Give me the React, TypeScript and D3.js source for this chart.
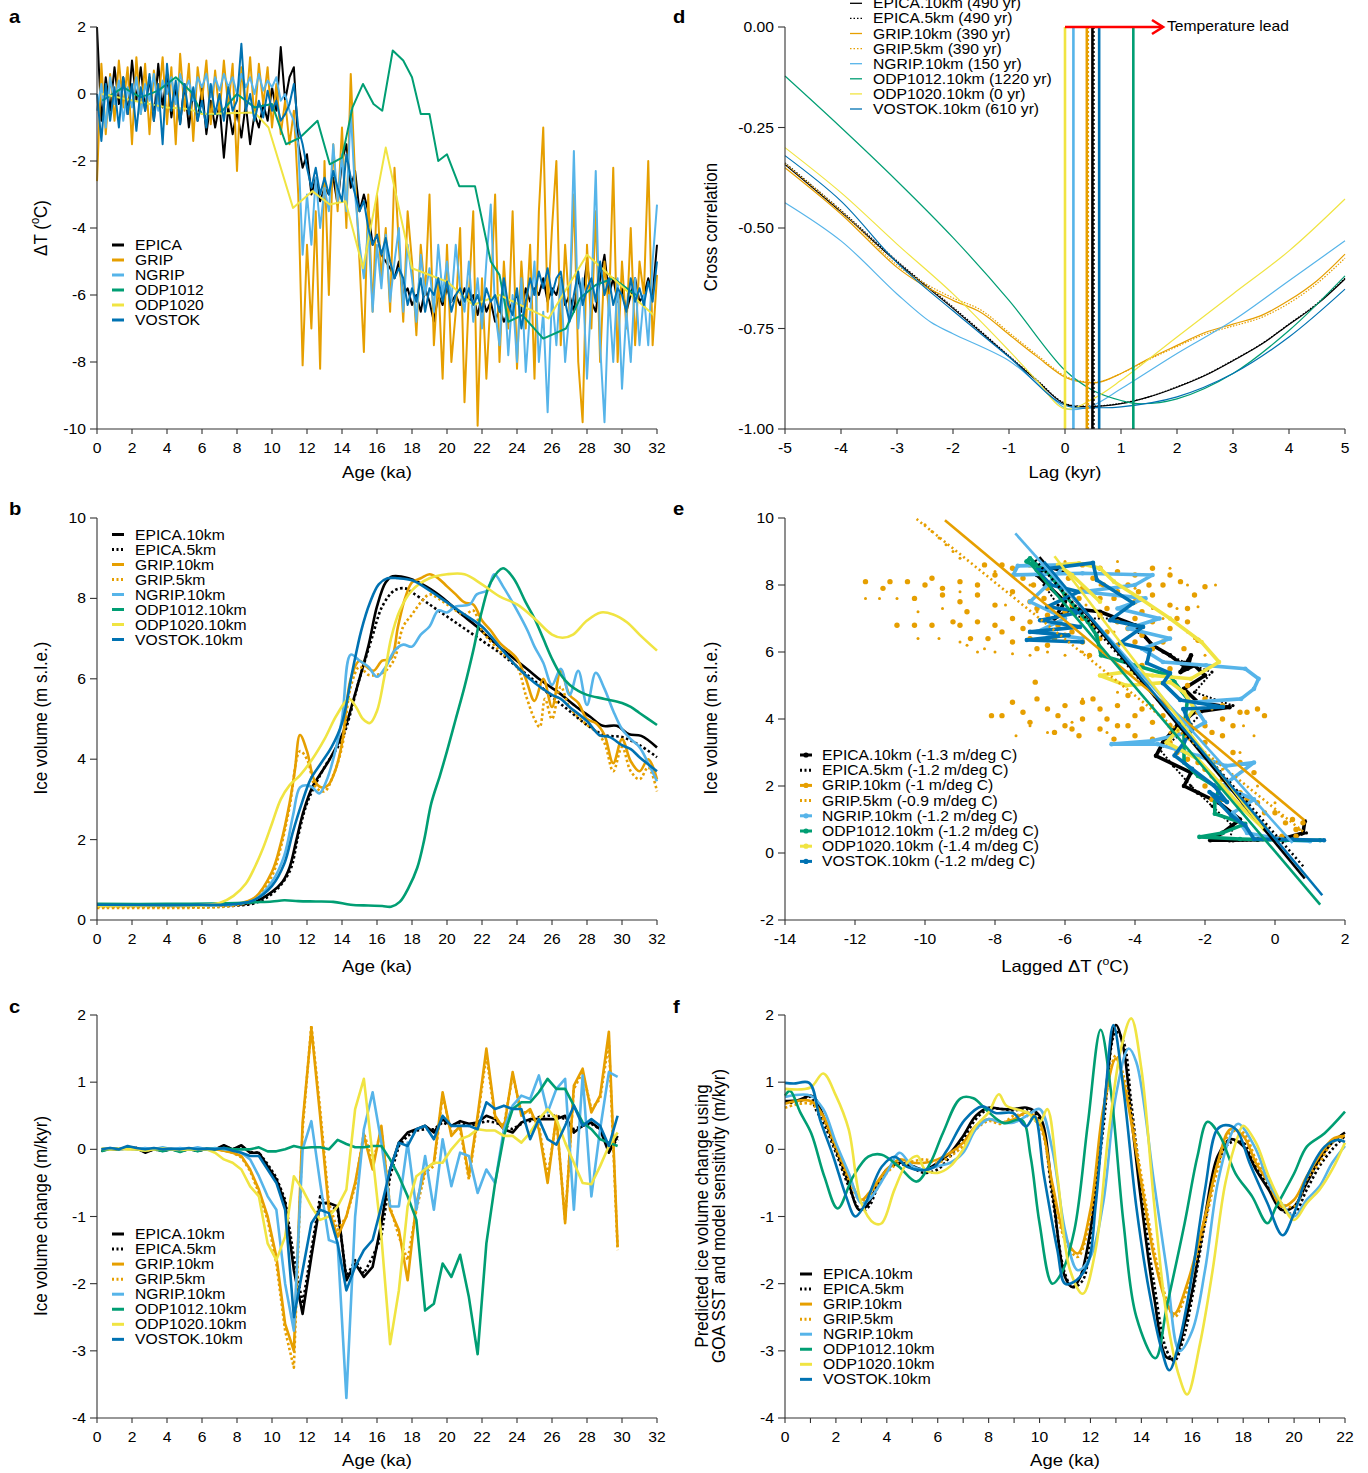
import React from 'react';
import * as d3 from 'd3';

const FONT = '"Liberation Sans", Arial, Helvetica, sans-serif';
const SX = 1.12;
const AX = '#333';

const COL = { EPICA: '#000000', GRIP: '#E69F00', NGRIP: '#56B4E9', ODP1012: '#009E73', ODP1020: '#F0E442', VOSTOK: '#0072B2' };

const NAMES6 = ['EPICA', 'GRIP', 'NGRIP', 'ODP1012', 'ODP1020', 'VOSTOK'];
const COL6 = [COL.EPICA, COL.GRIP, COL.NGRIP, COL.ODP1012, COL.ODP1020, COL.VOSTOK];
const NAMES8 = ['EPICA.10km', 'EPICA.5km', 'GRIP.10km', 'GRIP.5km', 'NGRIP.10km', 'ODP1012.10km', 'ODP1020.10km', 'VOSTOK.10km'];
const COL8 = [COL.EPICA, COL.EPICA, COL.GRIP, COL.GRIP, COL.NGRIP, COL.ODP1012, COL.ODP1020, COL.VOSTOK];
const DOT8 = [false, true, false, true, false, false, false, false];
const LAG_LABELS = ['EPICA.10km (490 yr)', 'EPICA.5km (490 yr)', 'GRIP.10km (390 yr)', 'GRIP.5km (390 yr)', 'NGRIP.10km (150 yr)', 'ODP1012.10km (1220 yr)', 'ODP1020.10km (0 yr)', 'VOSTOK.10km (610 yr)'];
const SENS_LABELS = ['EPICA.10km (-1.3 m/deg C)', 'EPICA.5km (-1.2 m/deg C)', 'GRIP.10km (-1 m/deg C)', 'GRIP.5km (-0.9 m/deg C)', 'NGRIP.10km (-1.2 m/deg C)', 'ODP1012.10km (-1.2 m/deg C)', 'ODP1020.10km (-1.4 m/deg C)', 'VOSTOK.10km (-1.2 m/deg C)'];

// ---------- Panel a : temperature anomaly ----------
const aAges = [
  0, 0.25, 0.5, 0.75, 1, 1.25, 1.5, 1.75, 2, 2.25, 2.5, 2.75, 3, 3.25, 3.5, 3.75,
  4, 4.25, 4.5, 4.75, 5, 5.25, 5.5, 5.75, 6, 6.25, 6.5, 6.75, 7, 7.25, 7.5, 7.75,
  8, 8.25, 8.5, 8.75, 9, 9.25, 9.5, 9.75, 10, 10.25, 10.5, 10.75, 11, 11.25, 11.5, 11.75,
  12, 12.25, 12.5, 12.75, 13, 13.25, 13.5, 13.75, 14, 14.25, 14.5, 14.75, 15, 15.25, 15.5, 15.75,
  16, 16.25, 16.5, 16.75, 17, 17.25, 17.5, 17.75, 18, 18.25, 18.5, 18.75, 19, 19.25, 19.5, 19.75,
  20, 20.25, 20.5, 20.75, 21, 21.25, 21.5, 21.75, 22, 22.25, 22.5, 22.75, 23, 23.25, 23.5, 23.75,
  24, 24.25, 24.5, 24.75, 25, 25.25, 25.5, 25.75, 26, 26.25, 26.5, 26.75, 27, 27.25, 27.5, 27.75,
  28, 28.25, 28.5, 28.75, 29, 29.25, 29.5, 29.75, 30, 30.25, 30.5, 30.75, 31, 31.25, 31.5, 31.75, 32,
];
const aEPICA = [
  2.0, -0.8, 0.5, -0.5, 0.8, -0.3, 0.5, -0.6, 1.0, -0.2, 0.8, -0.5, 0.5, -0.8, 0.9, -0.4,
  0.6, -0.7, 0.2, -0.9, 0.3, -1.0, 0.1, -0.8, 0.2, -1.2, -0.2, -1.0, -0.3, -1.9, -0.4, -1.2,
  -0.5, -1.3, -0.3, -1.5, -0.6, -1.0, -0.3, -0.8, 0.2, -0.5, 1.4, -0.2, 0.5, 0.8, -1.5, -2.2,
  -1.8, -3.0, -2.5, -3.2, -2.8, -3.0, -2.5, -3.3, -2.0, -1.5, -2.8, -2.3, -3.5, -3.0, -3.5, -4.5,
  -4.2, -4.8, -5.0, -5.2, -5.5, -5.0, -6.0, -5.8, -6.3, -6.0, -6.5, -5.8, -6.2, -6.8, -6.0, -6.3,
  -5.8, -6.2, -6.0, -6.3, -5.8, -6.2, -6.0, -6.6, -6.0, -6.5, -6.2, -6.8, -6.4, -6.8, -6.5, -6.2,
  -6.0, -6.5, -5.8, -6.2, -5.8, -6.0, -5.5, -6.2, -5.8, -6.0, -5.5, -6.3, -6.0, -6.5, -5.5, -6.0,
  -5.0, -6.2, -6.5, -5.5, -4.8, -6.0, -5.5, -6.2, -5.8, -6.5, -6.0, -5.5, -6.2, -6.0, -5.5, -6.0, -4.5,
];
const aGRIP = [
  -2.6, 0.9, -1.2, 0.6, -0.8, 1.0, -0.4, 0.8, -1.5, 1.1, -0.6, 0.9, -1.2, 0.7, -0.3, 1.1,
  -0.9, 0.8, -1.5, 1.2, -0.5, 0.9, -1.4, 0.8, -0.2, 1.0, -0.9, 0.7, -0.6, 1.0, -0.4, 0.9,
  -2.3, 0.8, -0.5, 1.1, -0.8, 0.9, -0.3, 0.8, -1.0, 0.3, -1.2, -0.2, -1.5, -0.5, -3.0, -8.1,
  -4.5, -7.0, -3.5, -8.2, -2.0, -6.0, -1.5, -3.5, -1.0, -4.0, 0.6, -2.5, -5.0, -7.7, -3.0, -6.5,
  -3.0, -5.5, -4.0, -6.5, -2.2, -4.5, -6.8, -3.5, -5.0, -7.2, -4.5, -6.0, -3.0, -7.5, -5.5, -8.5,
  -4.5, -8.0, -6.5, -4.0, -9.2, -6.0, -3.5, -9.9, -5.5, -8.5, -6.0, -3.0, -8.0, -5.0, -7.0, -3.5,
  -8.2, -5.0, -7.0, -4.5, -8.5, -3.5, -1.0, -6.5, -4.0, -2.0, -7.5, -4.5, -6.5, -3.0, -8.0, -9.8,
  -4.5, -7.0, -3.5, -8.0, -5.0, -6.5, -2.2, -8.0, -5.0, -7.0, -4.0, -7.5, -5.0, -6.0, -2.0, -7.5, -5.4,
];
const aNGRIP = [
  -0.5, 0.3, -1.0, 0.5, -0.3, 0.4, -0.8, 0.2, -0.4, 0.5, -0.6, 0.3, -0.2, 0.6, -0.5, 0.4,
  0.0, 0.5, -0.3, 0.6, 0.1, 0.4, -0.2, 0.5, 0.2, 0.6, -0.1, 0.5, 0.1, 0.6, 0.2, 0.5,
  0.0, 0.6, 0.2, 0.5, 0.0, 0.6, 0.1, 0.4, 0.2, 0.5, -0.2, 0.0, -0.5, -0.8, -1.5, -4.8,
  -3.0, -4.5, -2.5, -4.0, -2.8, -3.5, -1.5, -3.2, -1.8, -3.5, -0.5, -3.0, -4.5, -5.5, -4.0, -6.5,
  -4.5, -5.8, -4.2, -6.2, -5.0, -4.0, -6.5, -4.5, -5.5, -6.8, -4.8, -6.0, -5.2, -6.5, -4.5, -6.0,
  -5.0, -6.2, -4.5, -5.8, -6.5, -5.0, -6.8, -5.5, -7.0, -5.0, -3.3, -6.5, -7.5, -5.5, -7.8, -6.0,
  -8.0, -5.5, -8.3, -6.5, -5.0, -8.0, -6.5, -9.5, -6.0, -7.5, -5.5, -8.0, -6.5, -1.7, -7.0, -5.5,
  -8.5, -6.0, -2.3, -7.5, -9.8, -6.0, -8.0, -5.5, -8.8, -6.5, -8.0, -5.5, -7.5, -6.0, -7.5, -5.0, -3.3,
];
const aVOSTOK = [
  0.0, -1.4, 0.3, -0.8, 0.2, -1.0, 0.5, -0.6, 0.3, -1.1, 0.2, -0.5, 0.6, -0.8, 0.3, -1.5,
  0.9, -0.5, 0.4, -0.9, 0.3, -0.6, 0.2, -0.8, -0.2, -1.0, 0.3, -0.6, 0.0, -0.8, 0.2, -0.5,
  -0.2, 1.5, -0.5, 0.0, -0.8, -0.2, -0.7, 0.1, -0.5, -0.2, -0.8, -0.6, -0.3, 0.3, -1.0, -1.5,
  -2.2, -2.8, -2.2, -3.0, -2.5, -3.0, -2.3, -2.8, -3.2, -1.8, -2.5, -3.0, -3.5, -3.2, -4.0, -4.5,
  -4.2, -4.8, -4.3, -5.0, -5.5, -5.2, -5.5, -6.3, -5.8, -6.2, -5.5, -6.5, -5.8, -6.0, -5.5, -6.2,
  -5.6, -6.5, -6.0, -5.8, -6.2, -5.8, -6.3, -6.0, -6.5, -5.8, -6.2, -6.0, -6.5, -5.5, -6.3, -6.6,
  -5.8, -7.0, -6.2, -5.5, -6.0, -5.3, -5.8, -5.2, -6.0, -5.5, -5.3, -6.2, -6.8, -6.0, -5.3, -6.3,
  -5.8, -5.5, -6.2, -5.0, -6.0, -5.5, -6.3, -5.8, -6.0, -6.5, -5.5, -6.2, -5.8, -6.3, -5.6, -6.2, -5.0,
];
const aODP1012 = [
  [0.3, -0.2], [1.5, 0.2], [2.5, -0.1], [3.5, 0.1], [4.5, 0.5], [5.4, 0.05], [6, -0.6], [7, -0.6], [8, 0], [9, -0.4],
  [10, -0.3], [10.8, -1.5], [11.6, -1.3], [12.6, -0.8], [13.3, -2.1], [14, -1.9], [14.6, -0.4], [15.2, 0.3], [15.8, -0.3],
  [16.3, -0.5], [16.9, 1.3], [17.5, 1.0], [18, 0.5], [18.5, -0.6], [19, -0.6], [19.5, -2.0], [20, -1.8], [20.7, -2.75],
  [21.6, -2.75], [22.5, -5.0], [23, -5.4], [23.5, -6.8], [24.3, -6.6], [25.5, -7.3], [26.8, -7.0], [27.6, -6.1],
  [28.5, -5.7], [29.5, -5.5], [30.8, -6.0],
];
const aODP1020 = [
  [0.3, 0.0], [3, -0.3], [4, -0.4], [5.3, -0.45], [6, -0.6], [9, -0.55], [9.8, -1.0], [11.2, -3.4], [12.3, -2.9],
  [13.3, -3.3], [14.2, -3.2], [15.2, -5.2], [16.5, -1.6], [18, -5.2], [20, -5.6], [21.5, -6.3], [23, -6.0],
  [25.8, -6.7], [28, -4.8], [31.8, -6.6],
];

// ---------- Panel b : ice volume ----------
const bEpica10 = [[0, 0.37], [2, 0.36], [4, 0.36], [6, 0.37], [8, 0.38], [9, 0.45], [10, 0.7], [10.6, 0.95], [11, 1.3], [11.4, 2.0], [11.8, 2.7], [12.3, 3.3], [13.3, 4.0], [14.1, 4.7], [14.8, 5.7], [15.5, 6.8], [16, 7.8], [16.5, 8.4], [16.9, 8.55], [17.8, 8.5], [18.8, 8.3], [19.8, 8.0], [20.7, 7.65], [21.7, 7.3], [22.7, 6.9], [23.7, 6.55], [24.7, 6.2], [25.4, 5.95], [26.4, 5.65], [27.4, 5.3], [28.2, 5.05], [28.9, 4.83], [29.7, 4.83], [30.4, 4.62], [31.1, 4.58], [32, 4.29]];
const bEpica5 = [[0, 0.33], [4, 0.33], [8, 0.36], [9, 0.42], [10, 0.65], [11, 1.2], [11.5, 2.1], [12, 2.9], [13, 3.8], [14, 4.5], [15, 6.0], [15.7, 7.0], [16.3, 7.8], [17, 8.2], [17.6, 8.25], [18, 8.15], [19, 7.85], [20, 7.55], [21, 7.25], [22, 6.95], [23, 6.65], [24, 6.3], [25, 5.95], [26, 5.55], [27, 5.2], [28, 4.85], [29, 4.6], [30, 4.55], [31, 4.35], [32, 4.05]];
const bGrip10 = [[0, 0.35], [4, 0.35], [7, 0.37], [8, 0.4], [9, 0.55], [10, 1.2], [10.5, 1.9], [11, 2.9], [11.3, 3.7], [11.6, 4.6], [12, 4.2], [12.4, 3.5], [12.8, 3.3], [13.2, 3.35], [13.6, 3.7], [14, 4.4], [14.5, 6.0], [15, 6.45], [15.4, 6.3], [15.8, 6.2], [16.3, 6.45], [16.8, 6.5], [17.2, 7.3], [17.6, 8.0], [18, 8.4], [18.5, 8.5], [19, 8.6], [19.5, 8.5], [20, 8.3], [20.5, 8.1], [21, 7.9], [21.5, 7.85], [22, 7.45], [22.5, 7.2], [23, 6.9], [24, 6.5], [24.5, 6.0], [25, 5.45], [25.5, 6.0], [26, 5.3], [26.5, 6.2], [27, 5.6], [27.5, 5.4], [28, 5.0], [28.5, 4.9], [29, 4.6], [29.5, 3.9], [30, 4.5], [30.5, 3.95], [31, 3.7], [31.5, 4.0], [32, 3.5]];
const bGrip5 = [[0, 0.3], [4, 0.3], [7, 0.32], [8, 0.37], [9, 0.5], [10, 1.1], [10.5, 1.8], [11, 2.8], [11.6, 4.2], [12, 4.0], [12.5, 3.3], [13, 3.2], [13.5, 3.6], [14, 4.3], [14.5, 5.8], [15, 6.3], [15.5, 6.1], [16, 6.1], [16.5, 6.2], [17, 6.5], [17.5, 7.3], [18, 7.6], [18.5, 7.9], [19, 8.1], [19.5, 8.0], [20, 7.85], [21, 7.6], [21.5, 7.7], [22, 7.2], [23, 6.7], [24, 6.3], [24.5, 5.6], [25, 5.0], [25.3, 4.8], [25.6, 5.5], [26, 5.0], [26.5, 5.8], [27, 5.3], [28, 4.85], [28.5, 4.7], [29, 4.4], [29.5, 3.7], [30, 4.3], [30.5, 3.7], [31, 3.5], [31.5, 3.8], [32, 3.2]];
const bNgrip10 = [[0, 0.36], [4, 0.36], [7, 0.37], [8, 0.4], [9, 0.5], [10, 0.95], [10.7, 1.6], [11.2, 2.6], [11.6, 3.3], [12, 3.35], [12.3, 3.3], [12.7, 3.15], [13.1, 3.45], [13.5, 4.0], [14, 5.0], [14.5, 6.6], [15, 6.45], [15.5, 6.3], [16, 6.05], [16.5, 6.3], [17, 6.7], [17.5, 6.85], [18, 6.8], [18.5, 7.1], [19, 7.3], [19.5, 7.7], [20, 7.65], [20.5, 7.8], [21.3, 7.85], [21.7, 8.1], [22.3, 8.2], [22.7, 8.6], [23.2, 8.3], [24, 7.7], [24.6, 7.2], [25, 6.8], [25.5, 6.4], [26, 5.85], [26.5, 6.25], [27, 5.6], [27.5, 6.2], [28, 5.35], [28.5, 6.15], [29, 5.75], [29.5, 5.2], [30, 4.75], [30.5, 4.5], [31, 4.3], [31.5, 3.9], [32, 3.45]];
const bOdp1012 = [[0, 0.4], [4, 0.4], [8, 0.42], [9, 0.44], [10, 0.46], [10.7, 0.49], [11.5, 0.47], [12.5, 0.46], [13.5, 0.45], [14.5, 0.38], [15.5, 0.36], [16.3, 0.35], [16.8, 0.33], [17.3, 0.45], [17.8, 0.8], [18.3, 1.3], [18.7, 2.0], [19.1, 2.9], [19.6, 3.6], [20, 4.2], [20.5, 5.0], [21, 5.8], [21.5, 6.7], [22, 7.7], [22.5, 8.4], [23.2, 8.75], [23.8, 8.5], [24.5, 7.9], [25, 7.5], [25.5, 7.0], [26, 6.5], [26.5, 6.1], [27, 5.85], [27.5, 5.7], [28, 5.6], [29, 5.5], [30, 5.4], [30.5, 5.3], [31, 5.15], [32, 4.85]];
const bOdp1020 = [[0, 0.35], [4, 0.36], [6, 0.37], [7, 0.42], [7.8, 0.6], [8.5, 0.9], [9, 1.3], [9.5, 1.8], [10, 2.4], [10.5, 3.0], [11, 3.35], [11.6, 3.6], [12.3, 4.0], [13, 4.5], [13.7, 5.1], [14.4, 5.5], [14.8, 5.3], [15.2, 5.0], [15.6, 4.9], [16, 5.2], [16.4, 6.0], [16.8, 7.0], [17.3, 7.7], [18, 8.2], [19, 8.5], [20, 8.6], [21, 8.6], [22, 8.35], [23, 8.05], [24, 7.85], [25, 7.5], [26, 7.1], [26.6, 7.02], [27.2, 7.1], [28, 7.45], [28.8, 7.65], [29.5, 7.6], [30.3, 7.4], [31, 7.1], [32, 6.7]];
const bVostok10 = [[0, 0.38], [4, 0.37], [6, 0.38], [8, 0.4], [9, 0.5], [10, 0.85], [10.7, 1.4], [11.2, 2.2], [11.7, 2.9], [12.2, 3.5], [12.8, 3.9], [13.4, 4.3], [14, 4.9], [14.6, 6.2], [15.1, 7.2], [15.6, 7.9], [16.1, 8.35], [16.6, 8.5], [17.2, 8.5], [18, 8.45], [19, 8.2], [20, 7.9], [21, 7.6], [22, 7.3], [23, 6.8], [24, 6.3], [25, 5.9], [26, 5.6], [26.5, 5.5], [27, 5.3], [28, 4.95], [28.7, 4.6], [29.3, 4.55], [30, 4.35], [30.5, 4.25], [31, 4.05], [32, 3.7]];

// ---------- Panel c : ice volume change ----------
const cAges = [
  0.25, 0.75, 1.25, 1.75, 2.25, 2.75, 3.25, 3.75, 4.25, 4.75, 5.25, 5.75, 6.25, 6.75, 7.25, 7.75, 8.25, 8.75, 9.25, 9.75,
  10.25, 10.75, 11.25, 11.75, 12.25, 12.75, 13.25, 13.75, 14.25, 14.75, 15.25, 15.75, 16.25, 16.75, 17.25, 17.75, 18.25, 18.75, 19.25, 19.75,
  20.25, 20.75, 21.25, 21.75, 22.25, 22.75, 23.25, 23.75, 24.25, 24.75, 25.25, 25.75, 26.25, 26.75, 27.25, 27.75, 28.25, 28.75, 29.25, 29.75,
];
const cEpica10 = [-0.02, 0.01, 0, 0.03, 0.02, -0.05, 0, -0.02, 0, -0.03, 0, -0.02, 0, 0, 0.06, 0, 0.06, -0.05, -0.05, -0.25,
  -0.45, -0.8, -1.8, -2.45, -1.6, -0.8, -0.8, -0.85, -1.95, -1.7, -1.9, -1.75, -1.1, -0.3, 0.1, 0.25, 0.3, 0.35, 0.25, 0.45,
  0.35, 0.42, 0.38, 0.4, 0.5, 0.45, 0.3, 0.25, 0.4, 0.45, 0.45, 0.45, 0.45, 0.5, 0.25, 0.35, 0.4, 0.3, -0.05, 0.2];
const cEpica5 = [-0.02, 0.01, 0, 0.02, 0.02, -0.04, 0, -0.02, 0, -0.02, 0, -0.02, 0, 0, 0.05, 0, 0.05, -0.04, -0.05, -0.22,
  -0.42, -0.75, -1.6, -2.3, -1.5, -0.7, -0.85, -0.9, -1.9, -1.65, -1.85, -1.6, -1.3, -0.4, 0.05, 0.2, 0.28, 0.3, 0.3, 0.4,
  0.35, 0.4, 0.35, 0.38, 0.42, 0.4, 0.35, 0.3, 0.38, 0.42, 0.48, 0.5, 0.5, 0.45, 0.3, 0.35, 0.38, 0.3, 0, 0.15];
const cGrip10 = [0, 0.01, 0, 0.02, 0, -0.02, 0, 0.01, 0, -0.02, 0, 0.01, 0, 0, -0.02, -0.05, -0.1, -0.3, -0.6, -1.0,
  -1.6, -2.6, -3.0, 0.4, 1.8, 0.5, -0.9, -1.3, -1.0, -0.5, 0.2, -0.3, 0.35, -0.9, -1.2, -1.95, -0.8, -0.3, -0.2, 0.85,
  0.2, 0.35, -0.4, 0.5, 1.5, 0.5, 0.3, 1.15, 0.5, 0.6, 0.3, -0.5, 0.5, -1.1, 0.95, 1.2, 0.55, 0.8, 1.75, -1.45];
const cGrip5 = [0, 0.01, 0, 0.01, 0, -0.02, 0, 0.01, 0, -0.02, 0, 0.01, 0, 0, -0.02, -0.05, -0.12, -0.32, -0.65, -1.05,
  -1.7, -2.7, -3.25, 0.3, 1.85, 0.6, -0.8, -1.2, -1.0, -0.55, 0.25, -0.2, 0.3, -0.85, -1.3, -1.65, -0.9, -0.35, -0.25, 0.8,
  0.25, 0.3, -0.45, 0.45, 1.4, 0.45, 0.35, 1.1, 0.55, 0.55, 0.35, -0.4, 0.45, -1.05, 0.9, 1.15, 0.6, 0.75, 1.6, -1.5];
const cNgrip10 = [0, 0.02, 0, 0.01, 0, 0.02, 0, 0.03, 0, 0.02, 0, 0.03, 0, 0.02, 0, 0, -0.05, -0.15, -0.4, -0.7,
  -0.9, -2.0, -2.7, 0.0, 0.42, -0.5, -1.35, -1.4, -3.7, -1.0, 0.3, 0.85, 0.1, -0.85, -0.85, 0.1, -0.9, -0.1, -0.9, 0.15,
  -0.55, -0.05, -0.1, -0.65, -0.3, -0.5, 0.3, 0.65, 0.8, 0.75, 1.1, 0.55, 0.9, 1.05, -0.9, 1.1, -0.7, 0.3, 1.15, 1.08];
const cOdp1012 = [-0.03, 0.01, 0, 0.03, 0, -0.02, 0.01, -0.03, 0, -0.04, 0.01, -0.03, 0.01, 0, 0.02, 0, 0, 0, 0.03, -0.03,
  -0.03, 0, 0.05, 0.02, 0.03, 0.03, 0, 0.14, 0.08, 0.03, 0.03, 0.05, 0.05, -0.15, -0.4, -0.7, -1.05, -2.4, -2.3, -1.7,
  -1.9, -1.57, -2.2, -3.05, -1.4, -0.5, 0.2, 0.6, 0.7, 0.7, 0.85, 1.05, 0.9, 0.9, 0.65, 0.4, 0.3, 0.15, 0.1, 0.05];
const cOdp1020 = [0.01, 0, 0.01, 0, 0, -0.02, 0, 0.01, 0, -0.01, 0, 0, 0, -0.05, -0.15, -0.2, -0.3, -0.55, -0.7, -1.4,
  -1.65, -1.3, -0.4, -0.6, -0.85, -1.05, -1.0, -0.85, -0.6, 0.6, 1.05, -0.1, -1.3, -2.9, -2.1, -0.85, -0.4, -0.3, -0.2, -0.2,
  0, 0.15, 0.2, 0.3, 0.28, 0.28, 0.2, 0.2, 0.1, 0.25, 0.45, 0.6, 0.45, 0.1, -0.2, -0.5, -0.52, -0.25, 0.05, 0.25];
const cVostok10 = [0, 0.02, 0, 0.05, 0.02, 0, 0.02, 0, 0.01, 0, 0.02, 0, 0.01, 0, 0.02, -0.02, -0.05, -0.1, -0.1, -0.3,
  -0.5, -0.9, -2.5, -1.8, -1.1, -0.9, -0.95, -1.4, -2.1, -1.75, -1.5, -1.35, -0.85, -0.3, 0.1, 0.05, 0.3, 0.35, 0.15, 0.5,
  0.35, 0.35, 0.35, 0.3, 0.7, 0.6, 0.65, 0.6, 0.6, 0.15, 0.45, 0.15, 0.07, 0.35, 0.65, 0.35, 0.45, 0.35, 0.05, 0.5];

// ---------- Panel d : cross correlation ----------
const dEpica10 = [[-5, -0.342], [-4, -0.46], [-3, -0.585], [-2, -0.70], [-1, -0.82], [-0.5, -0.88], [0, -0.938], [0.5, -0.944], [1, -0.937], [1.5, -0.92], [2, -0.896], [2.5, -0.867], [3, -0.83], [3.5, -0.79], [4, -0.74], [4.5, -0.69], [5, -0.627]];
const dEpica5 = [[-5, -0.338], [-4, -0.456], [-3, -0.582], [-2, -0.697], [-1, -0.818], [-0.5, -0.878], [0, -0.936], [0.5, -0.943], [1, -0.936], [1.5, -0.92], [2, -0.895], [2.5, -0.866], [3, -0.829], [3.5, -0.789], [4, -0.739], [4.5, -0.688], [5, -0.625]];
const dGrip10 = [[-5, -0.35], [-4, -0.465], [-3, -0.598], [-2.5, -0.645], [-2, -0.68], [-1.5, -0.71], [-1, -0.765], [-0.5, -0.82], [0, -0.871], [0.3, -0.883], [0.6, -0.884], [1, -0.862], [1.5, -0.825], [2, -0.792], [2.5, -0.76], [3, -0.739], [3.5, -0.718], [4, -0.68], [4.5, -0.631], [5, -0.565]];
const dGrip5 = [[-5, -0.34], [-4, -0.458], [-3, -0.592], [-2.5, -0.638], [-2, -0.674], [-1.5, -0.704], [-1, -0.76], [-0.5, -0.816], [0, -0.868], [0.3, -0.881], [0.6, -0.883], [1, -0.862], [1.5, -0.827], [2, -0.795], [2.5, -0.764], [3, -0.744], [3.5, -0.723], [4, -0.687], [4.5, -0.638], [5, -0.575]];
const dNgrip10 = [[-5, -0.437], [-4, -0.532], [-3, -0.664], [-2.4, -0.734], [-2, -0.763], [-1, -0.83], [-0.5, -0.887], [0, -0.948], [0.15, -0.952], [0.5, -0.941], [1, -0.9], [2, -0.812], [3, -0.73], [4, -0.631], [5, -0.532]];
const dOdp1012 = [[-5, -0.122], [-4, -0.25], [-3, -0.383], [-2, -0.524], [-1, -0.68], [0, -0.854], [0.5, -0.904], [1, -0.929], [1.3, -0.937], [2, -0.925], [3, -0.862], [4, -0.755], [5, -0.619]];
const dOdp1020 = [[-5, -0.30], [-4, -0.412], [-3, -0.54], [-2, -0.664], [-1, -0.805], [-0.5, -0.88], [0, -0.95], [0.5, -0.925], [1, -0.879], [2, -0.771], [3, -0.664], [4, -0.557], [5, -0.428]];
const dVostok10 = [[-5, -0.32], [-4, -0.433], [-3, -0.586], [-2, -0.706], [-1, -0.821], [0, -0.941], [0.6, -0.947], [1, -0.945], [2, -0.92], [3, -0.862], [4, -0.771], [5, -0.652]];
const dLags = [0.49, 0.49, 0.39, 0.39, 0.15, 1.22, 0, 0.61];

// ---------- Panel e : ice volume vs lagged temperature ----------
const eEpica10 = [[0.85, 0.95], [0.8, 0.6], [0.3, 0.45], [-0.5, 0.4], [-1.2, 0.38], [-1.85, 0.38], [-1.5, 0.6], [-1.0, 1.0], [-1.6, 1.5], [-2.2, 1.8], [-2.6, 2.0], [-2.4, 2.4], [-3.4, 2.9], [-3.2, 3.3], [-2.8, 3.8], [-2.3, 4.2], [-1.3, 4.35], [-2.2, 4.5], [-2.6, 4.9], [-2.0, 5.3], [-2.3, 5.6], [-2.7, 5.4], [-2.4, 5.9], [-2.5, 5.5], [-3.0, 5.9], [-3.5, 6.2], [-4.0, 6.8], [-5.0, 7.2], [-5.8, 7.3], [-6.3, 7.0], [-6.0, 7.5], [-6.8, 8.3], [-6.5, 8.55], [-6.0, 8.4]];
const eEpica5 = [[0.9, 0.6], [0.4, 0.4], [-0.5, 0.38], [-1.3, 0.36], [-1.2, 0.8], [-1.8, 1.4], [-2.4, 2.0], [-2.9, 2.6], [-3.3, 3.1], [-2.6, 3.6], [-2.0, 4.3], [-1.2, 4.4], [-2.3, 4.8], [-1.8, 5.4], [-2.6, 5.7], [-3.2, 6.0], [-3.8, 6.5], [-4.5, 7.0], [-5.5, 7.0], [-6.2, 7.4], [-6.6, 8.0], [-6.6, 8.2]];
const eGrip10 = [
  [-11.7, 8.1], [-11.0, 8.1], [-10.5, 8.1], [-10.0, 8.0], [-9.5, 7.9], [-9.0, 8.1], [-8.5, 8.0], [-8.0, 8.3], [-7.5, 8.5], [-7.0, 8.6],
  [-6.5, 8.5], [-6.0, 8.6], [-5.5, 8.6], [-5.0, 8.5], [-4.5, 8.4], [-4.0, 8.3], [-3.5, 8.5], [-3.0, 8.3], [-2.7, 8.1], [-2.0, 7.95],
  [-10.3, 7.6], [-9.5, 7.7], [-9.0, 7.5], [-8.5, 7.7], [-8.0, 7.4], [-7.5, 7.8], [-7.0, 7.5], [-6.5, 7.9], [-6.0, 7.7], [-5.5, 7.9],
  [-5.0, 7.6], [-4.5, 7.8], [-4.0, 7.5], [-3.5, 7.7], [-3.0, 7.4], [-2.5, 7.3], [-10.3, 6.8], [-9.8, 6.8], [-9.0, 6.8], [-8.5, 6.9],
  [-8.0, 6.8], [-7.5, 7.0], [-7.0, 6.9], [-6.5, 7.1], [-6.0, 7.2], [-5.5, 7.0], [-5.0, 7.1], [-4.5, 6.9], [-4.0, 7.0], [-3.5, 6.9],
  [-3.0, 6.7], [-2.5, 6.9], [-2.2, 6.35], [-8.7, 6.4], [-8.2, 6.4], [-7.5, 6.3], [-7.0, 6.4], [-6.5, 6.2], [-6.0, 6.5], [-5.5, 6.3],
  [-5.0, 6.4], [-4.5, 6.2], [-4.0, 6.3], [-3.5, 6.1], [-6.85, 5.1], [-8.1, 4.1], [-7.8, 4.1], [-7.2, 4.2], [-7.0, 3.9], [-6.5, 4.3],
  [-6.0, 4.4], [-6.0, 3.8], [-5.5, 4.5], [-5.5, 4.0], [-5.0, 4.3], [-5.0, 3.7], [-4.5, 4.4], [-4.5, 3.8], [-4.0, 3.5], [-4.0, 4.1],
  [-3.5, 3.9], [-3.0, 3.8], [-2.5, 4.0], [-2.0, 3.8], [-1.5, 4.0], [-1.0, 4.2], [-0.8, 4.2], [-1.5, 3.5], [-2.0, 3.3], [-1.2, 3.0],
  [-4.2, 4.7], [-6.3, 3.6], [-5.6, 3.5], [-3.0, 3.3], [-3.0, 5.5], [-2.5, 5.0], [-2.0, 4.6], [-2.5, 2.8], [-2.0, 2.5], [-1.5, 2.2],
  [-1.0, 1.8], [-0.5, 1.5], [0.0, 1.2], [0.5, 1.0], [0.8, 0.9], [0.6, 0.5], [0.2, 0.5], [-0.3, 0.8], [-1.0, 1.4], [-1.5, 1.6], [-2.0, 2.0],
  [-7.8, 8.6], [-7.2, 8.2], [-6.8, 7.3], [-6.2, 8.0], [-5.8, 7.4], [-5.2, 8.2], [-4.8, 7.3], [-4.2, 8.0], [-3.8, 7.2], [-3.2, 8.0],
  [-2.8, 7.0], [-2.3, 7.7], [-7.8, 6.6], [-7.2, 6.7], [-6.8, 6.1], [-6.2, 6.8], [-5.8, 6.6], [-5.2, 6.8], [-4.8, 6.6], [-4.2, 6.7],
  [-3.8, 6.5], [-3.2, 6.3], [-2.6, 6.1], [-8.8, 7.2], [-9.2, 6.9], [-10.8, 6.8], [-11.2, 7.9], [-9.8, 8.2], [-8.3, 8.6], [-6.3, 6.4],
  [-5.3, 5.9], [-4.3, 5.8], [-3.8, 5.6], [-7.5, 4.5], [-6.8, 4.6], [-6.2, 4.1], [-5.8, 3.7], [-5.2, 4.6], [-4.8, 4.0], [-4.2, 3.8],
  [-3.8, 4.3], [-3.2, 4.1], [-2.8, 3.6], [-2.2, 4.2], [-1.8, 3.6], [-1.2, 3.8], [-0.5, 4.3], [-0.3, 4.1], [-1.5, 4.4], [-3.5, 3.4],
  [-4.6, 3.4], [-2.8, 3.0], [-2.2, 2.7], [-1.8, 2.3], [-1.3, 2.0], [-0.8, 1.6], [-0.3, 1.2], [0.3, 0.9], [0.6, 0.7], [-0.6, 2.4],
  [-1.0, 2.7], [-1.8, 1.6], [-6.6, 7.6], [-5.6, 7.6], [-4.6, 7.6], [-3.6, 8.0], [-6.9, 8.0], [-5.9, 8.2], [-4.9, 8.0], [-3.9, 7.8],
];
const eGrip5 = [
  [-11.7, 7.6], [-11.3, 7.6], [-10.8, 7.6], [-10.2, 7.2], [-9.5, 7.3], [-10.2, 6.4], [-9.6, 6.4], [-9.0, 6.3], [-8.5, 6.0], [-8.0, 6.0],
  [-7.5, 5.95], [-7.0, 5.9], [-6.5, 6.0], [-6.0, 5.9], [-5.5, 6.0], [-5.0, 6.1], [-3.5, 7.3], [-2.8, 7.3], [-2.2, 7.35], [-2.3, 6.4],
  [-4.5, 4.8], [-5.5, 4.6], [-7.0, 3.8], [-6.5, 3.6], [-4.0, 3.3], [-3.0, 3.6], [-1.0, 3.0], [-1.5, 2.5], [-0.5, 2.0], [0.0, 1.5],
  [0.5, 1.0], [-2.5, 8.0], [-3.0, 8.5], [-4.5, 8.7], [-6.0, 8.7], [-8.0, 8.4], [-9.0, 7.8], [-7.0, 8.0], [-5.0, 8.0], [-4.0, 7.9],
  [-1.7, 8.0], [-2.0, 5.9], [-1.5, 4.0], [-0.9, 3.8], [-10.0, 9.8], [-9.8, 9.6], [-9.6, 9.4], [-9.4, 9.2], [-9.2, 9.0], [-9.0, 8.8],
  [-8.8, 6.2], [-8.3, 6.1], [-7.7, 7.4], [-6.8, 7.2], [-6.2, 6.9], [-5.4, 7.4], [-4.6, 6.6], [-3.8, 6.8], [-3.2, 7.0], [-2.5, 6.6],
  [-7.4, 3.5], [-5.8, 3.9], [-4.8, 3.6], [-3.5, 4.4], [-2.4, 3.4], [-1.8, 4.3], [-0.6, 3.5], [-1.0, 2.4], [0.2, 1.1], [0.7, 0.7],
];
const eNgrip10 = [[1.0, 0.35], [0.2, 0.4], [-0.8, 0.6], [-1.2, 1.2], [-0.6, 1.6], [-1.5, 2.0], [-0.6, 2.7], [-1.4, 2.6], [-2.2, 2.9], [-3.35, 3.25], [-4.67, 3.25], [-3.5, 3.35], [-2.5, 3.6], [-2.0, 3.9], [-2.37, 4.5], [-0.97, 4.6], [-0.6, 4.9], [-0.47, 5.2], [-0.85, 5.5], [-1.97, 5.6], [-3.2, 5.7], [-3.8, 6.1], [-3.0, 6.4], [-4.2, 6.7], [-3.3, 7.0], [-4.5, 7.3], [-3.7, 7.6], [-5.5, 7.8], [-4.0, 8.0], [-3.5, 8.3], [-5.5, 8.35], [-7.48, 8.3], [-7.35, 8.57], [-6.0, 8.6], [-6.5, 8.0], [-7.0, 7.5], [-6.0, 7.0], [-6.8, 6.6], [-5.5, 6.4]];
const eOdp1012 = [[1.29, 0.38], [0.3, 0.38], [-1.0, 0.42], [-2.16, 0.48], [-1.5, 0.6], [-0.85, 0.87], [-1.72, 1.17], [-1.72, 1.52], [-1.6, 1.92], [-2.2, 2.3], [-2.6, 2.7], [-2.6, 3.7], [-2.5, 4.6], [-2.87, 5.1], [-3.0, 5.3], [-4.97, 5.9], [-5.1, 6.5], [-5.35, 6.9], [-6.0, 7.7], [-6.5, 8.4], [-7.1, 8.7], [-7.0, 8.8], [-6.7, 8.5]];
const eOdp1020 = [[-0.3, 0.7], [-0.9, 1.3], [-1.5, 2.0], [-2.2, 2.8], [-3.1, 3.3], [-2.75, 3.7], [-2.3, 4.3], [-2.6, 4.8], [-3.0, 5.1], [-4.25, 5.0], [-5.0, 5.3], [-4.3, 5.4], [-3.5, 5.3], [-2.4, 5.2], [-1.6, 5.7], [-2.1, 6.3], [-3.0, 7.0], [-3.85, 7.6], [-4.6, 8.1], [-5.0, 8.5], [-5.6, 8.65], [-6.2, 8.6], [-5.8, 8.3], [-5.0, 7.5]];
const eVostok10 = [[1.4, 0.38], [0.5, 0.4], [-0.6, 0.42], [-0.85, 0.82], [-1.25, 1.12], [-1.87, 1.82], [-1.37, 1.52], [-1.75, 2.02], [-2.37, 2.51], [-2.87, 2.91], [-2.6, 3.3], [-2.37, 3.7], [-2.62, 4.3], [-1.49, 4.36], [-2.71, 4.57], [-3.2, 5.07], [-3.0, 5.37], [-3.66, 5.67], [-3.57, 6.06], [-4.43, 6.27], [-3.77, 6.75], [-4.71, 6.95], [-4.05, 7.46], [-5.09, 8.15], [-5.2, 8.66], [-6.81, 8.45], [-6.4, 8.0], [-5.6, 7.8], [-6.51, 7.35], [-5.5, 7.2], [-6.71, 6.95], [-5.57, 6.75], [-7.0, 6.6], [-5.9, 6.5], [-7.09, 6.36], [-5.5, 6.3]];
const eFits = [
  [[-6.73, 8.83], [0.85, -0.76]], [[-6.85, 8.75], [0.85, -0.45]], [[-9.43, 9.93], [0.85, 0.97]], [[-10.24, 9.97], [0.85, 0.6]],
  [[-7.42, 9.54], [0.5, 0.3]], [[-7.1, 8.77], [1.29, -1.54]], [[-6.3, 8.86], [-0.34, 0.72]], [[-6.6, 8.7], [1.35, -1.26]],
];

// ---------- Panel f : predicted ice volume change ----------
const fEpica10 = [[0, 0.72], [0.5, 0.73], [1, 0.8], [1.2, 0.75], [1.5, 0.5], [2, 0.0], [2.5, -0.5], [2.9, -0.9], [3.2, -0.85], [3.6, -0.55], [4, -0.3], [4.5, -0.2], [5, -0.25], [5.5, -0.3], [6, -0.2], [6.5, -0.05], [7, 0.2], [7.5, 0.5], [8, 0.62], [8.5, 0.6], [9, 0.6], [9.5, 0.62], [10, 0.5], [10.5, -0.6], [11, -1.9], [11.3, -2.05], [11.6, -1.9], [12, -1.2], [12.5, 0.5], [13, 1.85], [13.3, 1.5], [13.6, 0.5], [14, -0.8], [14.5, -2.2], [15, -3.1], [15.3, -3.1], [15.7, -2.6], [16, -2.1], [16.5, -1.0], [17, -0.1], [17.5, 0.15], [18, 0.05], [18.5, -0.3], [19, -0.6], [19.5, -0.9], [20, -0.85], [20.5, -0.5], [21, -0.15], [21.5, 0.1], [22, 0.25]];
const fEpica5 = [[0, 0.7], [0.5, 0.7], [1, 0.78], [1.2, 0.6], [1.5, 0.4], [2, -0.05], [2.5, -0.55], [3, -0.92], [3.3, -0.85], [3.6, -0.6], [4, -0.3], [4.5, -0.22], [5, -0.28], [5.5, -0.35], [6, -0.3], [6.5, -0.1], [7, 0.15], [7.5, 0.45], [8, 0.6], [8.5, 0.6], [9, 0.58], [9.5, 0.6], [10, 0.45], [10.5, -0.7], [11, -1.85], [11.3, -2.05], [11.7, -1.95], [12, -1.3], [12.5, 0.3], [13, 1.75], [13.3, 1.6], [13.6, 0.7], [14, -0.6], [14.5, -2.0], [15, -3.0], [15.3, -3.15], [15.7, -2.75], [16, -2.2], [16.5, -1.1], [17, -0.2], [17.5, 0.1], [18, 0.1], [18.5, -0.25], [19, -0.55], [19.5, -0.9], [20, -0.95], [20.5, -0.6], [21, -0.25], [21.5, 0.0], [22, 0.2]];
const fGrip10 = [[0, 0.68], [1, 0.72], [1.5, 0.5], [2, 0.05], [2.5, -0.4], [3, -0.75], [3.3, -0.65], [4, -0.3], [4.5, -0.15], [5, -0.2], [5.5, -0.2], [6, -0.15], [6.5, -0.05], [7, 0.1], [7.5, 0.35], [8, 0.45], [8.5, 0.4], [9, 0.45], [9.5, 0.55], [10, 0.4], [10.5, -0.5], [11, -1.3], [11.5, -1.55], [12, -0.9], [12.5, 0.6], [13, 1.35], [13.3, 1.0], [14, -0.5], [14.5, -1.6], [15, -2.3], [15.3, -2.45], [15.8, -2.0], [16.5, -1.0], [17, -0.2], [17.5, 0.3], [18, 0.2], [18.5, -0.2], [19, -0.5], [19.5, -0.85], [20, -0.75], [20.5, -0.4], [21, -0.1], [21.5, 0.15], [22, 0.2]];
const fGrip5 = [[0, 0.62], [1, 0.68], [1.5, 0.45], [2, 0.0], [2.5, -0.45], [3, -0.78], [3.3, -0.7], [4, -0.35], [4.5, -0.2], [5, -0.18], [5.5, -0.15], [6, -0.2], [6.5, -0.1], [7, 0.05], [7.5, 0.3], [8, 0.42], [8.5, 0.38], [9, 0.5], [9.5, 0.5], [10, 0.35], [10.5, -0.55], [11, -1.35], [11.5, -1.6], [12, -1.0], [12.5, 0.5], [13, 1.4], [13.3, 1.1], [14, -0.4], [14.5, -1.5], [15, -2.25], [15.3, -2.5], [15.8, -2.1], [16.5, -1.1], [17, -0.3], [17.5, 0.25], [18, 0.25], [18.5, -0.15], [19, -0.45], [19.5, -0.8], [20, -0.85], [20.5, -0.45], [21, -0.2], [21.5, 0.1], [22, 0.2]];
const fNgrip10 = [[0, 0.78], [1, 0.8], [1.5, 0.6], [2, 0.1], [2.5, -0.35], [3, -0.8], [3.3, -0.75], [4, -0.35], [4.5, -0.05], [5, -0.25], [5.5, -0.3], [6, -0.25], [6.5, -0.2], [7, -0.05], [7.5, 0.3], [8, 0.45], [8.5, 0.4], [9, 0.4], [9.5, 0.5], [10, 0.6], [10.5, 0.0], [11, -1.2], [11.5, -1.8], [12, -1.6], [12.5, -0.8], [13, 0.8], [13.5, 1.5], [13.8, 1.3], [14.5, -0.5], [15, -1.8], [15.5, -3.0], [16, -2.7], [16.5, -1.8], [17, -0.5], [17.5, 0.2], [17.8, 0.38], [18.5, 0.0], [19, -0.5], [19.5, -0.8], [20, -1.0], [20.5, -0.75], [21, -0.55], [21.5, -0.2], [22, 0.05]];
const fOdp1012 = [[0, 0.8], [0.2, 0.87], [0.6, 0.55], [1.03, 0.24], [1.55, -0.41], [2.07, -0.88], [2.67, -0.41], [3.27, -0.11], [3.8, -0.08], [4.48, -0.26], [5.17, -0.48], [5.7, -0.21], [6.2, 0.24], [6.9, 0.76], [7.4, 0.76], [7.9, 0.59], [8.6, 0.39], [9.3, 0.44], [9.65, -0.11], [10.0, -1.1], [10.5, -2.0], [10.85, -1.85], [11.37, -1.2], [11.9, 0.39], [12.4, 1.78], [12.8, 0.88], [13.3, -1.1], [13.8, -2.49], [14.55, -3.11], [15.0, -2.34], [15.7, -1.1], [16.2, -0.11], [16.6, 0.41], [17.1, 0.19], [17.7, -0.36], [18.35, -0.7], [18.95, -1.1], [19.3, -0.85], [20.0, -0.36], [20.5, 0.04], [21.2, 0.24], [22, 0.56]];
const fOdp1020 = [[0, 0.9], [1, 0.92], [1.5, 1.13], [2, 0.8], [2.5, 0.3], [3, -0.8], [3.5, -1.1], [3.8, -1.1], [4.3, -0.6], [4.8, -0.2], [5.2, -0.1], [5.5, -0.3], [6, -0.35], [6.5, -0.25], [7, 0.0], [7.5, 0.35], [8, 0.55], [8.4, 0.82], [8.7, 0.65], [9.5, 0.55], [10, 0.4], [10.3, 0.6], [10.7, -0.4], [11.2, -1.8], [11.7, -2.15], [12.2, -1.5], [12.7, 0.2], [13.2, 1.5], [13.6, 1.95], [14, 1.2], [14.5, -0.8], [15, -2.5], [15.5, -3.4], [15.8, -3.65], [16.3, -2.9], [16.8, -1.8], [17.3, -0.5], [17.8, 0.2], [18, 0.35], [18.5, 0.1], [19, -0.4], [19.5, -0.8], [20, -1.05], [20.5, -0.8], [21, -0.6], [21.5, -0.3], [22, 0.1]];
const fVostok10 = [[0, 0.99], [0.34, 0.98], [0.95, 0.99], [1.38, 0.44], [1.9, -0.11], [2.4, -0.7], [2.76, -1.0], [3.1, -0.85], [3.8, -0.26], [4.3, -0.11], [4.8, -0.26], [5.34, -0.31], [5.86, -0.26], [6.37, -0.01], [7.06, 0.44], [7.75, 0.64], [8.27, 0.54], [8.96, 0.54], [9.47, 0.34], [9.8, 0.49], [10.16, -0.36], [10.7, -1.5], [11.0, -2.0], [11.37, -1.97], [11.9, -1.7], [12.2, -0.85], [12.6, 0.88], [12.9, 1.85], [13.3, 0.88], [13.8, -0.85], [14.3, -2.1], [14.8, -2.99], [15.1, -3.29], [15.5, -2.84], [16.0, -1.85], [16.5, -0.6], [16.97, 0.29], [17.3, 0.36], [17.74, 0.29], [18.26, -0.21], [18.95, -0.8], [19.55, -1.28], [20.0, -0.95], [20.5, -0.41], [21.2, 0.04], [21.7, 0.14], [22, 0.11]];

// tick values
const ticksAge32 = [0, 2, 4, 6, 8, 10, 12, 14, 16, 18, 20, 22, 24, 26, 28, 30, 32];
const ticksAge22 = [0, 1, 2, 3, 4, 5, 6, 7, 8, 9, 10, 11, 12, 13, 14, 15, 16, 17, 18, 19, 20, 21, 22];
const labelsAge22 = [0, 2, 4, 6, 8, 10, 12, 14, 16, 18, 20, 22];
const ticksDT = [-10, -8, -6, -4, -2, 0, 2];
const ticksVol = [0, 2, 4, 6, 8, 10];
const ticksRate = [-4, -3, -2, -1, 0, 1, 2];
const ticksLag = [-5, -4, -3, -2, -1, 0, 1, 2, 3, 4, 5];
const ticksCorr = [-1, -0.75, -0.5, -0.25, 0];
const ticksLagT = [-14, -12, -10, -8, -6, -4, -2, 0, 2];
const ticksVolE = [-2, 0, 2, 4, 6, 8, 10];

function Txt({ x, y, size = 14, anchor = 'start', weight = 'normal', rot = 0, fill = '#000', children }: any) {
  const t = rot ? `translate(${x},${y}) rotate(${rot}) scale(1,${SX})` : `translate(${x},${y}) scale(${SX},1)`;
  return (
    <text transform={t} fontFamily={FONT} fontSize={size} textAnchor={anchor} fontWeight={weight} fill={fill}>
      {children}
    </text>
  );
}

function Axes({ xs, ys, xTicks, xLabels, yTicks, yFmt = (v: number) => String(v) }: any) {
  const x0 = xs.range()[0];
  const y0 = ys.range()[0];
  const labs = xLabels || xTicks;
  return (
    <g>
      <line x1={xs(xTicks[0])} x2={xs(xTicks[xTicks.length - 1])} y1={y0} y2={y0} stroke={AX} strokeWidth={1.1} />
      {xTicks.map((t: number) => (
        <line key={'xt' + t} x1={xs(t)} x2={xs(t)} y1={y0} y2={y0 + 5} stroke={AX} strokeWidth={1.1} />
      ))}
      {labs.map((t: number) => (
        <Txt key={'xl' + t} x={xs(t)} y={y0 + 24} anchor="middle">{String(t)}</Txt>
      ))}
      <line x1={x0} x2={x0} y1={ys(yTicks[0])} y2={ys(yTicks[yTicks.length - 1])} stroke={AX} strokeWidth={1.1} />
      {yTicks.map((t: number) => (
        <line key={'yt' + t} x1={x0 - 7} x2={x0} y1={ys(t)} y2={ys(t)} stroke={AX} strokeWidth={1.1} />
      ))}
      {yTicks.map((t: number) => (
        <Txt key={'yl' + t} x={x0 - 11} y={ys(t) + 5} anchor="end">{yFmt(t)}</Txt>
      ))}
    </g>
  );
}

function Legend({ x, textX, y0, dy, labels, colors, dotted, width = 3, len = 12, dots = false, dash = '2 2.5' }: any) {
  return (
    <g>
      {labels.map((l: string, i: number) => {
        const y = y0 + i * dy;
        return (
          <g key={l}>
            <line x1={x} x2={x + len} y1={y} y2={y} stroke={colors[i]} strokeWidth={width} strokeDasharray={dotted && dotted[i] ? dash : undefined} />
            {dots && !(dotted && dotted[i]) && <circle cx={x + len / 2} cy={y} r={2.6} fill={colors[i]} />}
            <Txt x={textX} y={y + 5}>{l}</Txt>
          </g>
        );
      })}
    </g>
  );
}

const mkLine = (xs: any, ys: any, curve: any = d3.curveLinear) =>
  d3.line<any>().x((d: any) => xs(d[0])).y((d: any) => ys(d[1])).curve(curve);

const zip = (ages: number[], vals: number[]) => ages.map((t, i) => [t, vals[i]]);

function DegC() {
  return (
    <>
      <tspan>(</tspan>
      <tspan dy={-7} fontSize={11}>o</tspan>
      <tspan dy={7}>C)</tspan>
    </>
  );
}

export default function App() {
  const xA = d3.scaleLinear().domain([0, 32]).range([97, 657]);
  const yA = d3.scaleLinear().domain([-10, 2]).range([429, 27]);
  const yB = d3.scaleLinear().domain([0, 10]).range([920, 518]);
  const yC = d3.scaleLinear().domain([-4, 2]).range([1418, 1015]);
  const xD = d3.scaleLinear().domain([-5, 5]).range([785, 1345]);
  const yD = d3.scaleLinear().domain([-1, 0]).range([429, 27]);
  const xE = d3.scaleLinear().domain([-14, 2]).range([785, 1345]);
  const yE = d3.scaleLinear().domain([-2, 10]).range([920, 518]);
  const xF = d3.scaleLinear().domain([0, 22]).range([785, 1345]);
  const yF = d3.scaleLinear().domain([-4, 2]).range([1418, 1015]);

  const smooth = d3.curveCatmullRom.alpha(0.5);

  const lineA = mkLine(xA, yA);
  const aSeries = [zip(aAges, aEPICA), zip(aAges, aGRIP), zip(aAges, aNGRIP), aODP1012, aODP1020, zip(aAges, aVOSTOK)];

  const lineB = mkLine(xA, yB, smooth);
  const bSeries = [bEpica10, bEpica5, bGrip10, bGrip5, bNgrip10, bOdp1012, bOdp1020, bVostok10];

  const lineC = mkLine(xA, yC);
  const cSeries = [cEpica10, cEpica5, cGrip10, cGrip5, cNgrip10, cOdp1012, cOdp1020, cVostok10].map((v) => zip(cAges, v));

  const lineD = mkLine(xD, yD, smooth);
  const dSeries = [dEpica10, dEpica5, dGrip10, dGrip5, dNgrip10, dOdp1012, dOdp1020, dVostok10];

  const lineE = mkLine(xE, yE);
  const eSeries = [eEpica10, eEpica5, eGrip10, eGrip5, eNgrip10, eOdp1012, eOdp1020, eVostok10];

  const lineF = mkLine(xF, yF, smooth);
  const fSeries = [fEpica10, fEpica5, fGrip10, fGrip5, fNgrip10, fOdp1012, fOdp1020, fVostok10];

  const corrFmt = d3.format('.2f');
  const hyphen = (s: string) => s.replace('\u2212', '-');

  return (
    <svg width={1368} height={1473} style={{ position: 'absolute', left: 0, top: 0, background: '#fff' }}>
      <rect x={0} y={0} width={1368} height={1473} fill="#fff" />

      {/* ---------------- Panel a ---------------- */}
      <g>
        {aSeries.map((s, i) => (
          <path key={'a' + i} d={lineA(s as any) || ''} fill="none" stroke={COL6[i]} strokeWidth={2} strokeLinejoin="round" />
        ))}
        <Axes xs={xA} ys={yA} xTicks={ticksAge32} yTicks={ticksDT} />
        <Legend x={112} textX={135} y0={245} dy={15} labels={NAMES6} colors={COL6} />
        <Txt x={47} y={228} rot={-90} anchor="middle" size={17}>
          {'\u0394T '}
          <DegC />
        </Txt>
        <Txt x={377} y={478} anchor="middle" size={16.5}>Age (ka)</Txt>
        <Txt x={9} y={23} size={18} weight="bold">a</Txt>
      </g>

      {/* ---------------- Panel b ---------------- */}
      <g>
        {bSeries.map((s, i) => (
          <path key={'b' + i} d={lineB(s as any) || ''} fill="none" stroke={COL8[i]} strokeWidth={2.6} strokeDasharray={DOT8[i] ? '2.5 2.5' : undefined} />
        ))}
        <Axes xs={xA} ys={yB} xTicks={ticksAge32} yTicks={ticksVol} />
        <Legend x={112} textX={135} y0={534.5} dy={15} labels={NAMES8} colors={COL8} dotted={DOT8} />
        <Txt x={47} y={718} rot={-90} anchor="middle" size={17}>Ice volume (m s.l.e.)</Txt>
        <Txt x={377} y={972} anchor="middle" size={16.5}>Age (ka)</Txt>
        <Txt x={9} y={515} size={18} weight="bold">b</Txt>
      </g>

      {/* ---------------- Panel c ---------------- */}
      <g>
        {cSeries.map((s, i) => (
          <path key={'c' + i} d={lineC(s as any) || ''} fill="none" stroke={COL8[i]} strokeWidth={2.6} strokeLinejoin="round" strokeDasharray={DOT8[i] ? '2.5 2.5' : undefined} />
        ))}
        <Axes xs={xA} ys={yC} xTicks={ticksAge32} yTicks={ticksRate} />
        <Legend x={112} textX={135} y0={1234} dy={15.05} labels={NAMES8} colors={COL8} dotted={DOT8} />
        <Txt x={47} y={1216} rot={-90} anchor="middle" size={17}>Ice volume change (m/kyr)</Txt>
        <Txt x={377} y={1466} anchor="middle" size={16.5}>Age (ka)</Txt>
        <Txt x={9} y={1013} size={18} weight="bold">c</Txt>
      </g>

      {/* ---------------- Panel d ---------------- */}
      <g>
        {dSeries.map((s, i) => (
          <path key={'d' + i} d={lineD(s as any) || ''} fill="none" stroke={COL8[i]} strokeWidth={1.2} strokeDasharray={DOT8[i] ? '1.5 1.5' : undefined} />
        ))}
        {dLags.map((lag, i) => (
          <line key={'dl' + i} x1={xD(lag) + (DOT8[i] ? 1.5 : 0)} x2={xD(lag) + (DOT8[i] ? 1.5 : 0)} y1={yD(0)} y2={yD(-1)} stroke={COL8[i]} strokeWidth={DOT8[i] ? 1.5 : 2.6} strokeDasharray={DOT8[i] ? '2 2' : undefined} />
        ))}
        <line x1={xD(0)} x2={xD(1.75)} y1={yD(0)} y2={yD(0)} stroke="#ff0000" strokeWidth={2.6} />
        <polyline points={`${xD(1.75) - 11},${yD(0) - 7} ${xD(1.75)},${yD(0)} ${xD(1.75) - 11},${yD(0) + 7}`} fill="none" stroke="#ff0000" strokeWidth={2.6} />
        <Txt x={1167} y={31} size={14}>Temperature lead</Txt>
        <Axes xs={xD} ys={yD} xTicks={ticksLag} yTicks={ticksCorr} yFmt={(v: number) => hyphen(corrFmt(v))} />
        <Legend x={850} textX={873} y0={3.3} dy={15.1} labels={LAG_LABELS} colors={COL8} dotted={DOT8} width={1.3} len={12} dash="1.5 2" />
        <Txt x={717} y={227} rot={-90} anchor="middle" size={17}>Cross correlation</Txt>
        <Txt x={1065} y={478} anchor="middle" size={16.5}>Lag (kyr)</Txt>
        <Txt x={673} y={23} size={18} weight="bold">d</Txt>
      </g>

      {/* ---------------- Panel e ---------------- */}
      <g>
        {eSeries.map((s, i) => {
          const isGrip = i === 2 || i === 3;
          const r = i === 2 ? 2.7 : i === 3 ? 1.5 : i === 1 ? 1.6 : 2.3;
          return (
            <g key={'e' + i}>
              {!isGrip && (
                <path d={lineE(s as any) || ''} fill="none" stroke={COL8[i]} strokeWidth={i === 1 ? 2 : 3.6} strokeLinejoin="round" strokeDasharray={i === 1 ? '2 2' : undefined} />
              )}
              {(s as any).map((p: any, j: number) => (
                <circle key={j} cx={xE(p[0])} cy={yE(p[1])} r={r} fill={COL8[i]} />
              ))}
            </g>
          );
        })}
        {eFits.map((f, i) => (
          <line key={'ef' + i} x1={xE(f[0][0])} y1={yE(f[0][1])} x2={xE(f[1][0])} y2={yE(f[1][1])} stroke={COL8[i]} strokeWidth={2.6} strokeDasharray={DOT8[i] ? '2 3' : undefined} />
        ))}
        <Axes xs={xE} ys={yE} xTicks={ticksLagT} yTicks={ticksVolE} />
        <Legend x={800} textX={822} y0={755} dy={15.2} labels={SENS_LABELS} colors={COL8} dotted={DOT8} dots={true} len={12} />
        <Txt x={717} y={718} rot={-90} anchor="middle" size={17}>Ice volume (m s.l.e.)</Txt>
        <Txt x={1065} y={972} anchor="middle" size={16.5}>
          {'Lagged \u0394T '}
          <DegC />
        </Txt>
        <Txt x={673} y={515} size={18} weight="bold">e</Txt>
      </g>

      {/* ---------------- Panel f ---------------- */}
      <g>
        {fSeries.map((s, i) => (
          <path key={'f' + i} d={lineF(s as any) || ''} fill="none" stroke={COL8[i]} strokeWidth={2.6} strokeDasharray={DOT8[i] ? '2.5 2.5' : undefined} />
        ))}
        <Axes xs={xF} ys={yF} xTicks={ticksAge22} xLabels={labelsAge22} yTicks={ticksRate} />
        <Legend x={800} textX={823} y0={1274} dy={15.05} labels={NAMES8} colors={COL8} dotted={DOT8} />
        <Txt x={708} y={1216} rot={-90} anchor="middle" size={17}>Predicted ice volume change using</Txt>
        <Txt x={725} y={1216} rot={-90} anchor="middle" size={17}>GOA SST and model sensitivity (m/kyr)</Txt>
        <Txt x={1065} y={1466} anchor="middle" size={16.5}>Age (ka)</Txt>
        <Txt x={673} y={1013} size={18} weight="bold">f</Txt>
      </g>
    </svg>
  );
}
